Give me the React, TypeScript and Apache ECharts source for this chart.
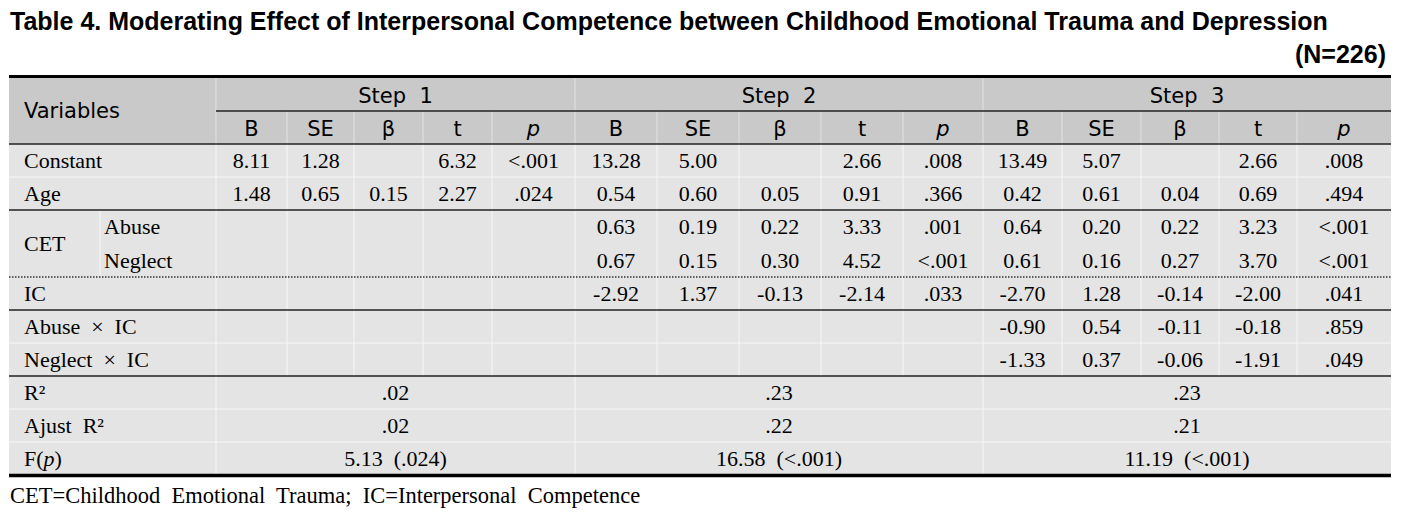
import React, { useEffect, useRef } from "react";
import * as echarts from "echarts";

// ---------- data ----------
const titleText =
  "Table 4. Moderating Effect of Interpersonal Competence between Childhood Emotional Trauma and Depression";
const sampleText = "(N=226)";
const footnoteText = "CET=Childhood  Emotional  Trauma;  IC=Interpersonal  Competence";
const variablesLabel = "Variables";
const stepLabels = ["Step  1", "Step  2", "Step  3"];
const statLabels = ["B", "SE", "β", "t", "p"];
const rowLabels = ["Constant", "Age", "Abuse", "Neglect", "IC", "Abuse  ×  IC", "Neglect  ×  IC"];
const cetLabel = "CET";

const step1Values: string[][] = [
  ["8.11", "1.28", "", "6.32", "<.001"],
  ["1.48", "0.65", "0.15", "2.27", ".024"],
  ["", "", "", "", ""],
  ["", "", "", "", ""],
  ["", "", "", "", ""],
  ["", "", "", "", ""],
  ["", "", "", "", ""],
];
const step2Values: string[][] = [
  ["13.28", "5.00", "", "2.66", ".008"],
  ["0.54", "0.60", "0.05", "0.91", ".366"],
  ["0.63", "0.19", "0.22", "3.33", ".001"],
  ["0.67", "0.15", "0.30", "4.52", "<.001"],
  ["-2.92", "1.37", "-0.13", "-2.14", ".033"],
  ["", "", "", "", ""],
  ["", "", "", "", ""],
];
const step3Values: string[][] = [
  ["13.49", "5.07", "", "2.66", ".008"],
  ["0.42", "0.61", "0.04", "0.69", ".494"],
  ["0.64", "0.20", "0.22", "3.23", "<.001"],
  ["0.61", "0.16", "0.27", "3.70", "<.001"],
  ["-2.70", "1.28", "-0.14", "-2.00", ".041"],
  ["-0.90", "0.54", "-0.11", "-0.18", ".859"],
  ["-1.33", "0.37", "-0.06", "-1.91", ".049"],
];
const summaryLabels = ["R²", "Ajust  R²", "F({i|p})"];
const r2Values = [".02", ".23", ".23"];
const adjR2Values = [".02", ".22", ".21"];
const fValues = ["5.13  (.024)", "16.58  (<.001)", "11.19  (<.001)"];

// ---------- layout ----------
const X0 = 9;
const X1 = 1391;
const colEdges = [216, 287, 354, 423, 492, 575, 657, 739, 821, 903, 983, 1062, 1141, 1219, 1297, 1391];
const stepEdges = [216, 575, 983, 1391];
const H0 = 78, H1 = 111, H2 = 144;
const rowEdges = [144, 177, 210, 243, 277, 310, 343, 376, 409, 442, 474];
const CET_X = 100;

const SANS = "'Liberation Sans', Arial, sans-serif";
const HSANS = "'DejaVu Sans', sans-serif";
const SERIF = "'Liberation Serif', 'Times New Roman', serif";
const HEADER_BG = "#c9c9c9";
const BODY_BG = "#e4e4e4";
const DARK = "#222";

function txt(text: string, x: number, y: number, align: string, family: string, size: number, extra: any = {}) {
  return {
    type: "text",
    x,
    y,
    silent: true,
    style: {
      text,
      fill: "#000",
      fontFamily: family,
      fontSize: size,
      align,
      verticalAlign: "middle",
      textAlign: align,
      textVerticalAlign: "middle",
      ...extra,
    },
  };
}
function hline(x1: number, x2: number, y: number, color: string, w: number, dash?: number[]) {
  return {
    type: "line",
    silent: true,
    shape: { x1, y1: y, x2, y2: y },
    style: { stroke: color, lineWidth: w, lineDash: dash },
  };
}
function vline(x: number, y1: number, y2: number, color: string, w: number) {
  return { type: "line", silent: true, shape: { x1: x, y1, x2: x, y2 }, style: { stroke: color, lineWidth: w } };
}

function buildGraphics() {
  const els: any[] = [];
  const bottom = rowEdges[rowEdges.length - 1];
  // backgrounds
  els.push({ type: "rect", silent: true, shape: { x: X0, y: H0, width: X1 - X0, height: H2 - H0 }, style: { fill: HEADER_BG } });
  els.push({ type: "rect", silent: true, shape: { x: X0, y: H2, width: X1 - X0, height: bottom - H2 }, style: { fill: BODY_BG } });

  // light separators: header
  els.push(vline(stepEdges[0], H0, H2, "#e2e2e2", 1));
  stepEdges.slice(1, 3).forEach((x) => els.push(vline(x, H0, H1, "#e2e2e2", 1)));
  colEdges.slice(1, colEdges.length - 1).forEach((x) => els.push(vline(x, H1, H2, "#e2e2e2", 1)));
  // body detail rows
  const detailTop = rowEdges[0];
  const detailBottom = rowEdges[rowLabels.length];
  colEdges.slice(0, colEdges.length - 1).forEach((x) => els.push(vline(x, detailTop, detailBottom, "#f7f7f7", 1)));
  els.push(vline(CET_X, rowEdges[2], rowEdges[4], "#f7f7f7", 1));
  // summary rows
  stepEdges.slice(0, 3).forEach((x) => els.push(vline(x, detailBottom, bottom, "#f7f7f7", 1)));
  // light horizontal
  [rowEdges[1], rowEdges[6], rowEdges[8], rowEdges[9]].forEach((y) => els.push(hline(X0, X1, y, "#f7f7f7", 1)));

  // dark lines
  els.push(hline(X0, X1, H0 - 1.5, "#000", 3));
  els.push(hline(stepEdges[0], X1, H1, DARK, 1.5));
  els.push(hline(X0, X1, H2, DARK, 1.5));
  els.push(hline(X0, X1, rowEdges[2], DARK, 1.5));
  els.push(hline(X0, X1, rowEdges[4], "#333", 1.3, [1.5, 1.5]));
  els.push(hline(X0, X1, rowEdges[5], DARK, 1.5));
  els.push(hline(X0, X1, rowEdges[7], DARK, 1.5));
  els.push(hline(X0, X1, bottom + 1.5, "#000", 3.5));

  // title
  els.push(txt(titleText, 10, 21, "left", SANS, 25, { fontWeight: "bold" }));
  els.push(txt(sampleText, 1386, 54, "right", SANS, 25, { fontWeight: "bold" }));

  // header
  els.push(txt(variablesLabel, 24, (H0 + H2) / 2, "left", HSANS, 21));
  stepLabels.forEach((s, i) => els.push(txt(s, (stepEdges[i] + stepEdges[i + 1]) / 2, (H0 + H1) / 2 + 1, "center", HSANS, 21)));
  for (let c = 0; c < colEdges.length - 1; c++) {
    const lab = statLabels[c % statLabels.length];
    const cx = (colEdges[c] + colEdges[c + 1]) / 2;
    els.push(txt(lab, cx, (H1 + H2) / 2 + 1, "center", HSANS, 21, lab === "p" ? { fontStyle: "italic" } : {}));
  }

  // row labels
  rowLabels.forEach((lab, r) => {
    const cy = (rowEdges[r] + rowEdges[r + 1]) / 2;
    const x = r === 2 || r === 3 ? CET_X + 4 : 24;
    els.push(txt(lab, x, cy, "left", SERIF, 22));
  });
  els.push(txt(cetLabel, 24, rowEdges[3], "left", SERIF, 22));

  // values
  const steps = [step1Values, step2Values, step3Values];
  steps.forEach((vals, s) => {
    vals.forEach((row, r) => {
      const cy = (rowEdges[r] + rowEdges[r + 1]) / 2;
      row.forEach((v, k) => {
        if (!v) return;
        const c = s * 5 + k;
        const cx = (colEdges[c] + colEdges[c + 1]) / 2;
        els.push(txt(v, cx, cy, "center", SERIF, 22));
      });
    });
  });

  // summary rows
  const sumVals = [r2Values, adjR2Values, fValues];
  summaryLabels.forEach((lab, k) => {
    const r = rowLabels.length + k;
    const cy = (rowEdges[r] + rowEdges[r + 1]) / 2;
    els.push(txt(lab, 24, cy, "left", SERIF, 22, { rich: { i: { fontStyle: "italic", fontFamily: SERIF, fontSize: 22 } } }));
    sumVals[k].forEach((v, s) => {
      const cx = (stepEdges[s] + stepEdges[s + 1]) / 2;
      els.push(txt(v, cx, cy, "center", SERIF, 22));
    });
  });

  // footnote
  els.push(txt(footnoteText, 10, 495, "left", SERIF, 22.5));
  return els;
}

export default function App() {
  const ref = useRef<HTMLDivElement>(null);
  useEffect(() => {
    if (!ref.current) return;
    const chart = echarts.init(ref.current, undefined, { renderer: "svg" });
    chart.setOption({
      animation: false,
      backgroundColor: "#ffffff",
      graphic: { elements: buildGraphics() },
    });
    return () => chart.dispose();
  }, []);
  return (
    <div
      ref={ref}
      style={{ position: "absolute", left: 0, top: 0, width: 1410, height: 514, background: "#fff" }}
    />
  );
}
